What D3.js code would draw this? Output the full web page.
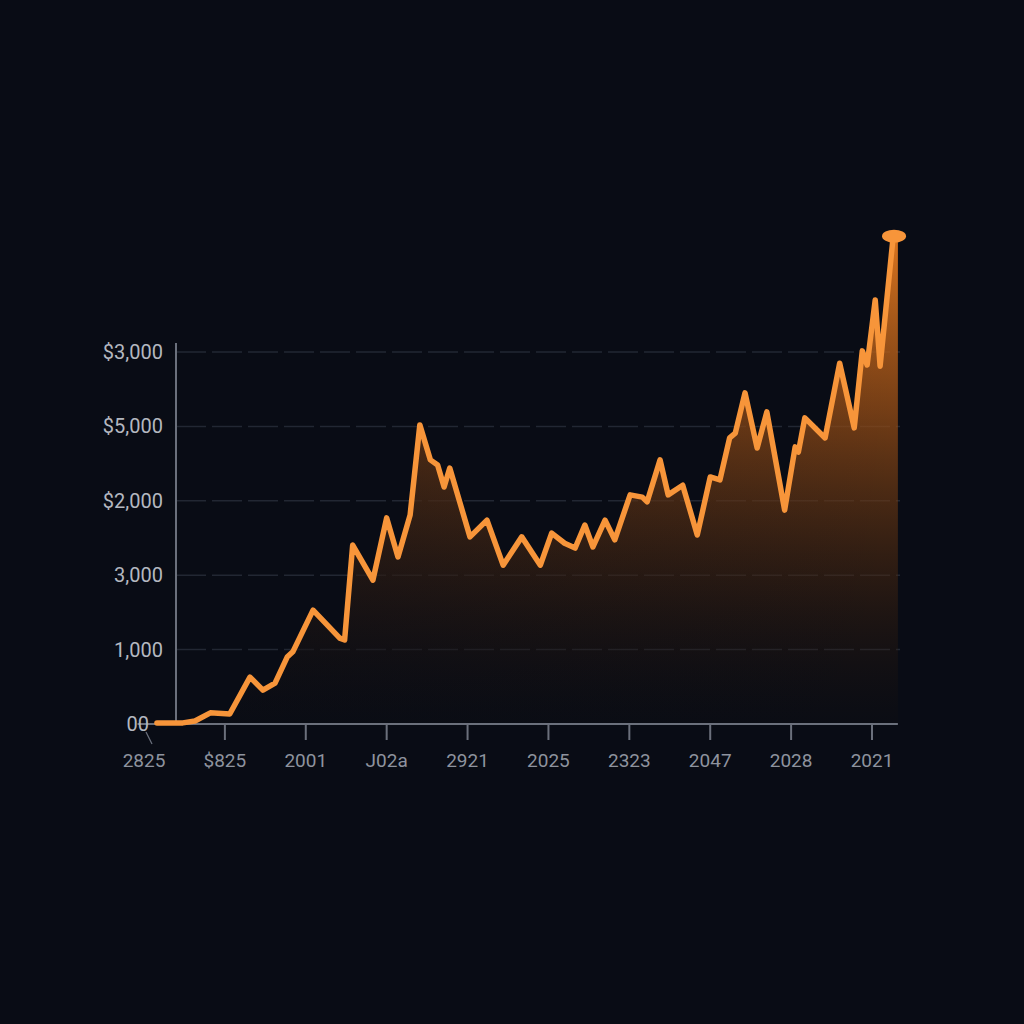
<!DOCTYPE html>
<html><head><meta charset="utf-8">
<script src="https://cdn.jsdelivr.net/npm/d3@7"></script>
<style>
html,body{margin:0;padding:0;background:#090c15;}
svg{display:block;}
</style></head>
<body>
<svg id="c" width="1024" height="1024"></svg>
<script>
// ---- data ----
const xTickLabels = ["2825","$825","2001","J02a","2921","2025","2323","2047","2028","2021"];
const yTickValues = [0,1000,2000,3000,4000,5000];
const yTickLabels = ["00","1,000","3,000","$2,000","$5,000","$3,000"];
const xs = [0.16,0.48,0.63,0.82,1.06,1.31,1.47,1.62,1.77,1.84,2.09,2.42,2.48,2.58,2.83,3.00,3.14,3.29,3.41,3.54,3.63,3.71,3.78,4.03,4.24,4.44,4.67,4.90,5.04,5.20,5.33,5.45,5.55,5.70,5.82,6.01,6.16,6.22,6.38,6.48,6.66,6.84,7.00,7.12,7.24,7.31,7.43,7.58,7.70,7.92,8.05,8.09,8.17,8.42,8.60,8.78,8.88,8.94,9.04,9.10,9.26];
const values = [15,15,40,150,135,630,455,550,900,970,1530,1155,1130,2405,1935,2770,2245,2810,4020,3550,3480,3185,3440,2515,2740,2135,2515,2135,2565,2430,2365,2675,2380,2740,2475,3080,3050,2985,3550,3080,3210,2540,3320,3280,3845,3910,4450,3710,4195,2875,3725,3655,4115,3845,4850,3980,5015,4825,5700,4810,6530];

const data = xs.map((x,i)=>({x, v: values[i]}));

const svg = d3.select("#c");
const x = d3.scaleLinear().domain([0,9]).range([144,872]);
const y = d3.scaleLinear().domain([0,5000]).range([724,352]);

const defs = svg.append("defs");
const grad = defs.append("linearGradient").attr("id","ag")
  .attr("gradientUnits","userSpaceOnUse").attr("x1",0).attr("y1",y(6530)).attr("x2",0).attr("y2",y(0));
grad.append("stop").attr("offset","0%").attr("stop-color","#e4791f").attr("stop-opacity",0.95);
grad.append("stop").attr("offset","35%").attr("stop-color","#9a4f16").attr("stop-opacity",0.75);
grad.append("stop").attr("offset","70%").attr("stop-color","#4a2810").attr("stop-opacity",0.5);
grad.append("stop").attr("offset","100%").attr("stop-color","#1a120c").attr("stop-opacity",0.1);

const grad2 = defs.append("linearGradient").attr("id","hg")
  .attr("gradientUnits","userSpaceOnUse").attr("x1",x(0)).attr("y1",0).attr("x2",x(9.3)).attr("y2",0);
grad2.append("stop").attr("offset","0%").attr("stop-color","#090c15").attr("stop-opacity",0.5);
grad2.append("stop").attr("offset","60%").attr("stop-color","#090c15").attr("stop-opacity",0.15);
grad2.append("stop").attr("offset","100%").attr("stop-color","#090c15").attr("stop-opacity",0);

// gridlines
svg.append("g").selectAll("line").data(yTickValues.slice(1)).join("line")
  .attr("x1",176).attr("x2",900).attr("y1",d=>y(d)).attr("y2",d=>y(d))
  .attr("stroke","#222733").attr("stroke-width",1.5).attr("stroke-dasharray","30,6");

// area
const area = d3.area().x(d=>x(d.x)).y0(y(0)).y1(d=>y(d.v)).curve(d3.curveLinear);
const areaData = data.concat([{x: 9.32, v: 6530}]);
svg.append("path").datum(areaData).attr("d",area).attr("fill","url(#ag)");
svg.append("path").datum(areaData).attr("d",area).attr("fill","url(#hg)");

// y axis line
svg.append("line").attr("x1",176).attr("x2",176).attr("y1",343).attr("y2",y(0))
  .attr("stroke","#6b707c").attr("stroke-width",2);
// x axis line
svg.append("line").attr("x1",x(-0.08)).attr("x2",x(9.32)).attr("y1",y(0)).attr("y2",y(0))
  .attr("stroke","#6b707c").attr("stroke-width",2);

// x ticks
const xt = svg.append("g");
xt.selectAll("line").data(xTickLabels.slice(1)).join("line")
  .attr("x1",(d,i)=>x(i+1)).attr("x2",(d,i)=>x(i+1)).attr("y1",y(0)).attr("y2",y(0)+16)
  .attr("stroke","#6b707c").attr("stroke-width",2);
xt.append("line").attr("x1",x(0)+2).attr("x2",x(0)+8).attr("y1",y(0)+8).attr("y2",y(0)+20)
  .attr("stroke","#6b707c").attr("stroke-width",1.2);
xt.selectAll("text").data(xTickLabels).join("text")
  .attr("x",(d,i)=>x(i)).attr("y",y(0)+43)
  .attr("text-anchor","middle").attr("fill","#8e939e")
  .attr("font-family","Roboto, 'Noto Sans', sans-serif").attr("font-size",19)
  .text(d=>d);

// y labels
svg.append("g").selectAll("text").data(yTickValues).join("text")
  .attr("x",(d,i)=>i===0?149:163).attr("y",d=>y(d)+7)
  .attr("text-anchor","end").attr("fill","#b4b8c0")
  .attr("font-family","Roboto, 'Noto Sans', sans-serif").attr("font-size",20)
  .text((d,i)=>yTickLabels[i]);

// line
const line = d3.line().x(d=>x(d.x)).y(d=>y(d.v));
svg.append("path").datum(data).attr("d",line).attr("fill","none")
  .attr("stroke","#f7953a").attr("stroke-width",5.5)
  .attr("stroke-linejoin","round").attr("stroke-linecap","round");

// end marker
const last = data[data.length-1];
svg.append("ellipse").attr("cx",x(last.x)+1).attr("cy",y(last.v)-2).attr("rx",12).attr("ry",6.5)
  .attr("fill","#f7953a");
</script>
</body></html>
